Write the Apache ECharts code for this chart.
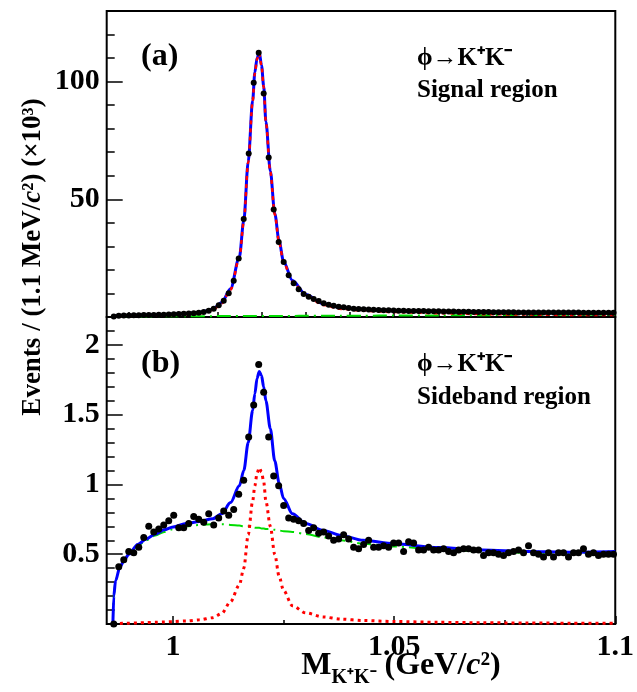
<!DOCTYPE html>
<html>
<head>
<meta charset="utf-8">
<script src="https://cdn.jsdelivr.net/npm/echarts@6/dist/echarts.min.js"></script>
<style>
html,body{margin:0;padding:0;background:#fff;}
#c{width:637px;height:692px;}
</style>
</head>
<body>
<div id="c"></div>
<script>
// ---------- data ----------
const xMin = 0.985, xMax = 1.1;
const binStart = 0.9866, binWidth = 0.00113;

// Panel (a): signal region, events (x10^3) per bin
const countsA = [
  0.2, 0.5, 0.6, 0.6, 0.7, 0.7, 0.8, 0.8, 0.9, 1.0,
  1.0, 1.1, 1.2, 1.3, 1.4, 1.5, 1.6, 1.8, 2.1, 2.7,
  3.5, 5.0, 6.9, 10.1, 15.4, 24.9, 41.6, 69.5, 99.5, 112.3,
  95.0, 67.8, 45.7, 31.9, 23.4, 17.7, 14.3, 11.8, 9.8, 8.6,
  7.6, 6.8, 5.8, 5.2, 4.8, 4.4, 4.1, 3.8, 3.5, 3.4,
  3.3, 3.2, 3.1, 3.0, 2.9, 2.9, 2.8, 2.7, 2.7, 2.6,
  2.6, 2.5, 2.5, 2.4, 2.4, 2.4, 2.3, 2.3, 2.3, 2.2,
  2.2, 2.2, 2.1, 2.1, 2.1, 2.1, 2.0, 2.0, 2.0, 2.0,
  2.0, 1.9, 1.9, 1.9, 1.9, 1.9, 1.9, 1.9, 1.9, 1.9,
  1.9, 1.9, 1.9, 1.9, 1.8, 1.8, 1.8, 1.8, 1.8, 1.8,
  1.8
];

// Panel (b): sideband region, events (x10^3) per bin
const countsB = [
  0.00, 0.41, 0.46, 0.52, 0.51, 0.55, 0.62, 0.70, 0.66, 0.68,
  0.71, 0.74, 0.78, 0.69, 0.69, 0.72, 0.77, 0.75, 0.73, 0.79,
  0.71, 0.76, 0.81, 0.78, 0.82, 0.93, 1.03, 1.34, 1.57, 1.86,
  1.66, 1.34, 1.06, 0.99, 0.85, 0.76, 0.75, 0.74, 0.72, 0.67,
  0.69, 0.65, 0.66, 0.63, 0.60, 0.61, 0.64, 0.61, 0.55, 0.54,
  0.57, 0.60, 0.55, 0.55, 0.56, 0.55, 0.58, 0.58, 0.52, 0.59,
  0.58, 0.53, 0.53, 0.55, 0.53, 0.53, 0.54, 0.52, 0.51, 0.53,
  0.54, 0.54, 0.53, 0.53, 0.49, 0.51, 0.51, 0.50, 0.49, 0.51,
  0.52, 0.53, 0.51, 0.56, 0.51, 0.50, 0.48, 0.51, 0.48, 0.51,
  0.51, 0.48, 0.51, 0.51, 0.54, 0.50, 0.51, 0.49, 0.50, 0.50,
  0.50
];

// Fit curves, sampled at curveX
const curveX = [
  0.9864, 0.9866, 0.987, 0.988, 0.989, 0.990, 0.992, 0.994, 0.996, 0.998,
  1.000, 1.003, 1.006, 1.009, 1.011, 1.013, 1.015, 1.016, 1.017, 1.018,
  1.0185, 1.019, 1.0195, 1.020, 1.0205, 1.021, 1.022, 1.023, 1.024, 1.025,
  1.027, 1.030, 1.034, 1.038, 1.043, 1.050, 1.060, 1.070, 1.080, 1.090,
  1.100
];
const totalA = [
  0, 0.3, 0.4, 0.5, 0.6, 0.65, 0.75, 0.85, 0.95, 1.05,
  1.2, 1.5, 1.9, 3.3, 6.2, 12.0, 25.5, 41.0, 66.0, 92.0,
  104.0, 110.0, 112.5, 107.0, 98.0, 83.0, 62.0, 44.0, 32.0, 23.5,
  15.5, 9.6, 5.6, 4.0, 3.2, 2.7, 2.3, 2.0, 1.9, 1.8,
  1.8
];
const signalA = [
  0, 0.2, 0.28, 0.35, 0.43, 0.46, 0.53, 0.6, 0.68, 0.76,
  0.89, 1.17, 1.55, 2.93, 5.82, 11.61, 25.1, 40.6, 65.6, 91.6,
  103.6, 109.6, 112.1, 106.6, 97.6, 82.6, 61.6, 43.6, 31.6, 23.0,
  15.0, 9.1, 5.08, 3.45, 2.63, 2.1, 1.62, 1.22, 1.02, 0.85,
  0.8
];
const bkgA = [
  0, 0.1, 0.12, 0.15, 0.17, 0.19, 0.22, 0.25, 0.27, 0.29,
  0.31, 0.33, 0.35, 0.37, 0.38, 0.39, 0.40, 0.41, 0.41, 0.42,
  0.42, 0.42, 0.43, 0.43, 0.43, 0.44, 0.44, 0.45, 0.45, 0.46,
  0.47, 0.49, 0.52, 0.55, 0.57, 0.60, 0.68, 0.78, 0.88, 0.95,
  1.0
];
const totalB = [
  0, 0.20, 0.31, 0.41, 0.46, 0.50, 0.57, 0.61, 0.645, 0.675,
  0.695, 0.72, 0.735, 0.755, 0.79, 0.87, 0.99, 1.10, 1.30, 1.53,
  1.65, 1.76, 1.81, 1.78, 1.70, 1.60, 1.40, 1.17, 1.01, 0.90,
  0.79, 0.72, 0.67, 0.635, 0.60, 0.575, 0.548, 0.53, 0.52, 0.515,
  0.52
];
const signalB = [
  0, 0, 0.002, 0.004, 0.005, 0.006, 0.008, 0.010, 0.012, 0.014,
  0.017, 0.022, 0.030, 0.045, 0.075, 0.16, 0.28, 0.40, 0.64, 0.88,
  0.99, 1.08, 1.12, 1.09, 1.02, 0.88, 0.70, 0.50, 0.34, 0.24,
  0.13, 0.08, 0.05, 0.035, 0.025, 0.018, 0.012, 0.009, 0.007, 0.006,
  0.005
];
const bkgB = [
  0, 0.20, 0.31, 0.41, 0.46, 0.50, 0.56, 0.60, 0.635, 0.66,
  0.68, 0.70, 0.71, 0.715, 0.715, 0.71, 0.705, 0.70, 0.70, 0.695,
  0.69, 0.69, 0.69, 0.685, 0.685, 0.68, 0.68, 0.675, 0.67, 0.665,
  0.66, 0.645, 0.62, 0.60, 0.575, 0.555, 0.535, 0.52, 0.51, 0.51,
  0.515
];

// Axis ticks / labels
const yMajorA = [0, 50, 100];
const yLabelA = [50, 100];
const yMinorA = [10, 20, 30, 40, 60, 70, 80, 90, 110, 120];
const yMajorB = [0, 0.5, 1, 1.5, 2];
const yLabelB = [0.5, 1, 1.5, 2];
const yMinorB = [0.1, 0.2, 0.3, 0.4, 0.6, 0.7, 0.8, 0.9, 1.1, 1.2, 1.3, 1.4, 1.6, 1.7, 1.8, 1.9, 2.1];
const xTicksA = [0.99, 1.0, 1.01, 1.02, 1.03, 1.04, 1.05, 1.06, 1.07, 1.08, 1.09];
const xMajorB = [1.0, 1.05, 1.1];
const xLabelB = [1.0, 1.05, 1.1];
const xMinorB = [1.025, 1.075];

// ---------- chart ----------
const FONT = 'Liberation Serif, Times New Roman, serif';
const chart = echarts.init(document.getElementById('c'), null, {renderer: 'canvas'});

const binX = i => binStart + i * binWidth;
const pts = arr => arr.map((v, i) => [binX(i), v]);
const crv = arr => curveX.map((x, i) => [x, arr[i]]);

const labelStyle = {fontFamily: FONT, fontWeight: 'bold', fontSize: 30, color: '#000'};

function xAxisDef(grid, ticks, len, labels) {
  return {
    type: 'value', gridIndex: grid, min: xMin, max: xMax, position: 'bottom',
    axisLine: {show: false},
    splitLine: {show: false},
    axisTick: {show: true, inside: true, length: len, customValues: ticks, lineStyle: {color: '#000', width: 1.5}},
    axisLabel: labels ? Object.assign({show: true, margin: 8, customValues: labels, formatter: v => String(+v.toFixed(3))}, labelStyle)
                      : {show: false}
  };
}
function yAxisDef(grid, max, ticks, len, labels) {
  return {
    type: 'value', gridIndex: grid, min: 0, max: max, position: 'left', offset: 0,
    axisLine: {show: false},
    splitLine: {show: false},
    axisTick: {show: true, inside: true, length: len, customValues: ticks, lineStyle: {color: '#000', width: 1.5}},
    axisLabel: labels ? Object.assign({show: true, margin: 7, customValues: labels, formatter: v => String(+v.toFixed(2))}, labelStyle)
                      : {show: false}
  };
}

const rich = (size) => ({
  m: {fontFamily: FONT, fontWeight: 'bold', fontSize: size, fill: '#000'},
  i: {fontFamily: FONT, fontWeight: 'bold', fontStyle: 'italic', fontSize: size, fill: '#000'}
});

function txt(x, y, text, size) {
  return {type: 'text', x: x, y: y, silent: true,
    style: {text: text, fontFamily: FONT, fontWeight: 'bold', fontSize: size, fill: '#000',
            textAlign: 'left', textVerticalAlign: 'middle'}};
}

const option = {
  animation: false,
  backgroundColor: '#fff',
  grid: [
    {left: 106.7, top: 11, width: 508.6, height: 306, show: true, borderColor: '#000', borderWidth: 2, backgroundColor: 'transparent'},
    {left: 106.7, top: 317, width: 508.6, height: 307, show: true, borderColor: '#000', borderWidth: 2, backgroundColor: 'transparent'}
  ],
  xAxis: [
    xAxisDef(0, xTicksA, 5, null),
    xAxisDef(1, xMajorB, 8, xLabelB),
    xAxisDef(1, xMinorB, 4, null)
  ],
  yAxis: [
    yAxisDef(0, 130, yMajorA, 16, yLabelA),
    yAxisDef(0, 130, yMinorA, 8, null),
    yAxisDef(1, 2.2, yMajorB, 16, yLabelB),
    yAxisDef(1, 2.2, yMinorB, 8, null)
  ],
  series: [
    // panel (a)
    {type: 'line', xAxisIndex: 0, yAxisIndex: 0, data: crv(bkgA), showSymbol: false, smooth: 0.3, smoothMonotone: 'x',
     lineStyle: {color: '#00dd00', width: 2, type: [14, 5, 2, 5]}, z: 2},
    {type: 'line', xAxisIndex: 0, yAxisIndex: 0, data: crv(totalA), showSymbol: false, smooth: 0.3, smoothMonotone: 'x',
     lineStyle: {color: '#0000ff', width: 3}, z: 3},
    {type: 'line', xAxisIndex: 0, yAxisIndex: 0, data: crv(signalA), showSymbol: false, smooth: 0.3, smoothMonotone: 'x',
     lineStyle: {color: '#ff0000', width: 2.5, type: [4, 4]}, z: 4},
    {type: 'scatter', xAxisIndex: 0, yAxisIndex: 0, data: pts(countsA), symbol: 'circle', symbolSize: 6,
     itemStyle: {color: '#000', opacity: 1}, z: 5},
    // panel (b)
    {type: 'line', xAxisIndex: 1, yAxisIndex: 2, data: crv(bkgB), showSymbol: false, smooth: 0.3, smoothMonotone: 'x',
     lineStyle: {color: '#00dd00', width: 2, type: [14, 5, 2, 5]}, z: 2},
    {type: 'line', xAxisIndex: 1, yAxisIndex: 2, data: crv(signalB), showSymbol: false, smooth: 0.3, smoothMonotone: 'x',
     lineStyle: {color: '#ff0000', width: 3, type: [3, 4]}, z: 3},
    {type: 'line', xAxisIndex: 1, yAxisIndex: 2, data: crv(totalB), showSymbol: false, smooth: 0.3, smoothMonotone: 'x',
     lineStyle: {color: '#0000ff', width: 3}, z: 4},
    {type: 'scatter', xAxisIndex: 1, yAxisIndex: 2, data: pts(countsB), symbol: 'circle', symbolSize: 7,
     itemStyle: {color: '#000', opacity: 1}, z: 5}
  ],
  graphic: [
    txt(141, 57, '(a)', 32),
    txt(417, 59, 'ϕ→K⁺K⁻', 25),
    txt(417, 91, 'Signal region', 25),
    txt(141, 364, '(b)', 32),
    txt(417, 365, 'ϕ→K⁺K⁻', 25),
    txt(417, 398, 'Sideband region', 25),
    {type: 'text', x: 33, y: 257, rotation: Math.PI / 2, silent: true,
     style: {text: '{m|Events / (1.1 MeV/}{i|c}{m|²) (×10³)}', rich: rich(27),
             textAlign: 'center', textVerticalAlign: 'middle', fontFamily: FONT, fontWeight: 'bold', fontSize: 27, fill: '#000'}},
    {type: 'text', x: 401, y: 666, silent: true,
     style: {text: '{m|M}{s|K⁺K⁻}{m| (GeV/}{i|c}{m|²)}',
             rich: Object.assign(rich(32), {
               m: {fontFamily: FONT, fontWeight: 'bold', fontSize: 32, fill: '#000', lineHeight: 44, verticalAlign: 'middle'},
               i: {fontFamily: FONT, fontWeight: 'bold', fontStyle: 'italic', fontSize: 32, fill: '#000', lineHeight: 44, verticalAlign: 'middle'},
               s: {fontFamily: FONT, fontWeight: 'bold', fontSize: 20, fill: '#000', lineHeight: 44, verticalAlign: 'bottom'}
             }),
             textAlign: 'center', textVerticalAlign: 'middle', fontFamily: FONT, fontWeight: 'bold', fontSize: 32, fill: '#000'}}
  ]
};
chart.setOption(option);
</script>
</body>
</html>
